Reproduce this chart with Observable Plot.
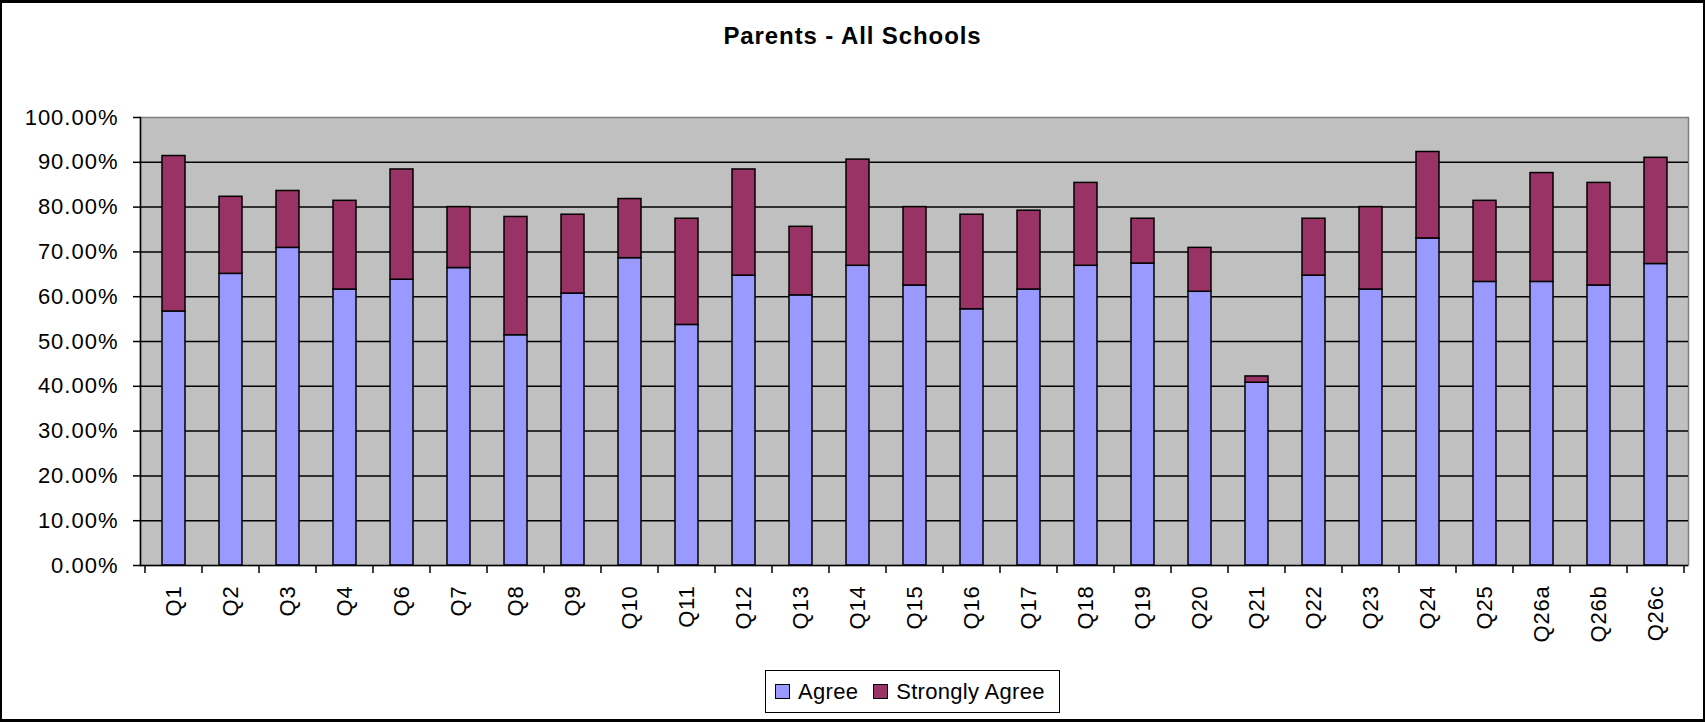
<!DOCTYPE html>
<html>
<head>
<meta charset="utf-8">
<script src="https://cdn.jsdelivr.net/npm/d3@7"></script>
<script src="https://cdn.jsdelivr.net/npm/@observablehq/plot@0.6"></script>
<style>
  html, body { margin: 0; padding: 0; background: #fff; }
  #wrap { position: relative; width: 1705px; height: 722px; overflow: hidden; background: #fff; font-family: "Liberation Sans", Arial, sans-serif; }
  #frame { position: absolute; left: 0; top: 0; width: 1705px; height: 722px; box-sizing: border-box; border: 2px solid #000; border-top-width: 3px; border-bottom-width: 3px; pointer-events: none; }
  #title { position: absolute; left: 0; width: 1705px; top: 24px; text-align: center; font-weight: bold; font-size: 24px; line-height: 24px; letter-spacing: 0.9px; color: #000; }
  #chart { position: absolute; left: 0; top: 80px; }
  #chart g[aria-label="y-axis tick label"] text { letter-spacing: 1px; }
  #chart g[aria-label="x-axis tick label"] text { letter-spacing: 0.8px; }
  #legend { position: absolute; left: 765px; top: 670px; width: 295px; height: 43px; box-sizing: border-box; border: 1.5px solid #000; background: #fff; display: flex; align-items: center; padding-left: 9px; font-size: 22px; letter-spacing: 0.3px; color: #000; }
  .item { display: flex; align-items: center; margin-right: 15px; white-space: nowrap; }
  .sw { display: inline-block; width: 15px; height: 15px; box-sizing: border-box; border: 1.5px solid #000; margin-right: 8px; }
</style>
</head>
<body>
<div id="wrap">
  <div id="title">Parents - All Schools</div>
  <div id="chart"></div>
  <div id="legend"></div>
  <div id="frame"></div>
</div>
<script>
// ---- data ----
const categories = ["Q1","Q2","Q3","Q4","Q6","Q7","Q8","Q9","Q10","Q11","Q12","Q13","Q14","Q15","Q16","Q17","Q18","Q19","Q20","Q21","Q22","Q23","Q24","Q25","Q26a","Q26b","Q26c"];
const agree =          [56.7, 65.1, 70.9, 61.6, 63.8, 66.4, 51.4, 60.7, 68.6, 53.7, 64.7, 60.3, 66.9, 62.5, 57.2, 61.6, 66.9, 67.4, 61.1, 40.8, 64.7, 61.6, 73.0, 63.3, 63.3, 62.5, 67.3];
const stronglyAgree =  [34.7, 17.2, 12.7, 19.8, 24.6, 13.6, 26.4, 17.6, 13.2, 23.7, 23.7, 15.3, 23.7, 17.5, 21.1, 17.6, 18.5, 10.0,  9.8,  1.4, 12.7, 18.4, 19.3, 18.1, 24.3, 22.9, 23.7];
const seriesNames = ["Agree", "Strongly Agree"];
const seriesColors = ["#9999FF", "#993366"];
const yTicks = [0, 10, 20, 30, 40, 50, 60, 70, 80, 90, 100];
const gridTicks = [10, 20, 30, 40, 50, 60, 70, 80, 90];

// table for the library
const rows = [];
categories.forEach((q, i) => {
  rows.push({q, series: seriesNames[0], value: agree[i]});
  rows.push({q, series: seriesNames[1], value: stronglyAgree[i]});
});

// category boundary tick marks (Excel style), using the plot's x scale
function boundaryTicks(index, scales) {
  const xs = scales.x;
  const bw = typeof xs.bandwidth === "function" ? xs.bandwidth() : (scales.scales && scales.scales.x ? scales.scales.x.bandwidth : 0);
  const step = typeof xs.step === "function" ? xs.step() : (scales.scales && scales.scales.x ? scales.scales.x.step : bw / 0.4);
  const y0 = scales.y(0);
  const g = d3.create("svg:g").attr("stroke", "#000").attr("stroke-width", 1.5);
  const edges = categories.map(c => xs(c) + bw / 2 - step / 2);
  edges.push(xs(categories[categories.length - 1]) + bw / 2 + step / 2);
  edges.forEach(x => {
    g.append("line").attr("x1", x).attr("x2", x).attr("y1", y0).attr("y2", y0 + 8);
  });
  return g.node();
}

const chart = Plot.plot({
  width: 1705,
  height: 580,
  marginTop: 37,
  marginBottom: 95,
  marginLeft: 140,
  marginRight: 17,
  style: { fontFamily: "'Liberation Sans', Arial, sans-serif", background: "transparent", color: "#000" },
  x: { type: "band", domain: categories, paddingInner: 0.6, paddingOuter: 0.3, axis: null, label: null },
  y: { domain: [0, 100], axis: null, label: null },
  color: { domain: seriesNames, range: seriesColors },
  marks: [
    Plot.frame({ fill: "#C0C0C0", stroke: "#808080", strokeWidth: 1.5 }),
    Plot.ruleY(gridTicks, { stroke: "#000", strokeWidth: 1.5 }),
    Plot.barY(rows, Plot.stackY({ x: "q", y: "value", fill: "series", stroke: "#000", strokeWidth: 1.5 })),
    Plot.ruleY([0], { stroke: "#000", strokeWidth: 1.5 }),
    Plot.frame({ anchor: "left", stroke: "#000", strokeWidth: 1.5 }),
    Plot.axisY({ ticks: yTicks, tickFormat: d => d.toFixed(2) + "%", tickSize: 7, tickPadding: 15, fontSize: 22, stroke: "#000", strokeWidth: 1.5, label: null }),
    Plot.axisX({ tickSize: 0, tickPadding: 20, tickRotate: -90, fontSize: 22, label: null }),
    boundaryTicks
  ]
});
document.getElementById("chart").appendChild(chart);

// legend
const legend = document.getElementById("legend");
seriesNames.forEach((name, i) => {
  const item = document.createElement("div");
  item.className = "item";
  const sw = document.createElement("span");
  sw.className = "sw";
  sw.style.background = seriesColors[i];
  item.appendChild(sw);
  item.appendChild(document.createTextNode(name));
  legend.appendChild(item);
});
</script>
</body>
</html>
